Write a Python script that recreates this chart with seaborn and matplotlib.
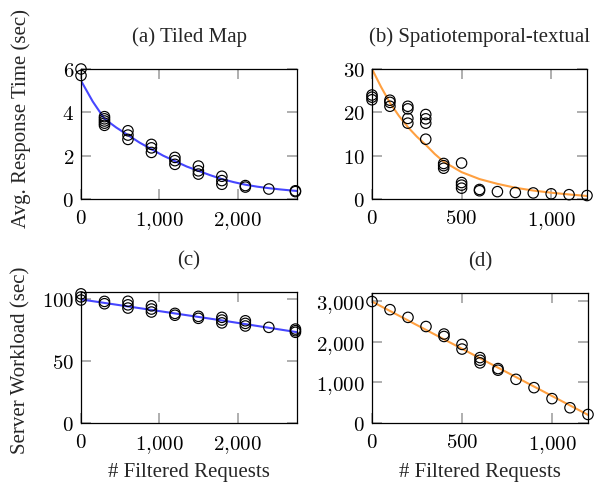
import matplotlib
matplotlib.use("Agg")
import matplotlib.pyplot as plt
import seaborn as sns
import pandas as pd
from matplotlib.ticker import FuncFormatter, FixedLocator

# ---------------- data ----------------
a_x = [0, 0, 300, 300, 300, 300, 300, 600, 600, 600, 900, 900, 900,
       1200, 1200, 1200, 1500, 1500, 1500, 1800, 1800, 1800, 2100, 2100,
       2400, 2740, 2740]
a_y = [6.0, 5.7, 3.8, 3.7, 3.6, 3.5, 3.4, 3.15, 2.95, 2.75, 2.52, 2.36, 2.15,
       1.92, 1.77, 1.6, 1.52, 1.3, 1.15, 1.05, 0.85, 0.68, 0.62, 0.55,
       0.46, 0.38, 0.34]
a_fit_x = [0, 150, 300, 450, 600, 750, 900, 1050, 1200, 1350, 1500, 1650,
           1800, 1950, 2100, 2250, 2400, 2550, 2760]
a_fit_y = [5.46, 4.5, 3.7, 3.3, 2.95, 2.6, 2.3, 2.0, 1.75, 1.5, 1.3, 1.1,
           0.92, 0.78, 0.66, 0.57, 0.5, 0.44, 0.37]

b_x = [0, 0, 0, 100, 100, 100, 200, 200, 200, 200, 300, 300, 300, 300,
       400, 400, 400, 500, 500, 500, 500, 600, 600, 700, 800, 900, 1000,
       1100, 1200]
b_y = [24.0, 23.5, 22.9, 22.8, 22.3, 21.4, 21.4, 20.8, 18.6, 17.5, 19.5,
       18.5, 17.5, 13.8, 8.2, 7.7, 7.1, 8.3, 3.8, 3.2, 2.5, 2.2, 1.9, 1.7,
       1.5, 1.4, 1.2, 1.0, 0.8]
b_fit_x = [0, 50, 100, 150, 200, 250, 300, 350, 400, 500, 600, 700, 800,
           900, 1000, 1100, 1200]
b_fit_y = [30.0, 25.9, 22.2, 19.2, 16.6, 14.4, 12.5, 10.4, 8.6, 6.2, 4.6,
           3.5, 2.6, 1.95, 1.45, 1.05, 0.7]

c_x = [0, 0, 0, 300, 300, 600, 600, 600, 900, 900, 900, 1200, 1200,
       1500, 1500, 1800, 1800, 1800, 2100, 2100, 2100, 2400, 2740, 2740, 2740]
c_y = [104.5, 102.0, 99.5, 98.4, 96.5, 98.5, 95.6, 93.0, 94.8, 92.2, 89.8,
       88.7, 87.2, 86.3, 84.7, 85.5, 83.3, 81.0, 82.7, 80.6, 78.5, 77.4,
       76.0, 74.7, 73.4]
c_fit_x = [0, 900, 1800, 2760]
c_fit_y = [100.0, 91.5, 83.0, 73.5]

d_x = [0, 100, 200, 300, 400, 400, 500, 500, 600, 600, 600, 700, 700,
       800, 900, 1000, 1100, 1200]
d_y = [2990, 2790, 2600, 2375, 2190, 2130, 1935, 1820, 1610, 1545, 1480,
       1340, 1300, 1075, 870, 600, 375, 210]
d_fit_x = [0, 600, 1200]
d_fit_y = [2990, 1595, 200]

titles = ["(a) Tiled Map", "(b) Spatiotemporal-textual", "(c)", "(d)"]
ylabels = ["Avg. Response Time (sec)", "Server Workload (sec)"]
xlabel = "# Filtered Requests"

a_xticks = [0, 1000, 2000]; a_yticks = [0, 2, 4, 6]
b_xticks = [0, 500, 1000]; b_yticks = [0, 10, 20, 30]
c_xticks = [0, 1000, 2000]; c_yticks = [0, 50, 100]
d_xticks = [0, 500, 1000]; d_yticks = [0, 1000, 2000, 3000]

BLUE = "#4646ff"
ORANGE = "#ffa040"

# ---------------- style ----------------
sns.set_style("white")
plt.rcParams["font.family"] = ["Liberation Serif", "DejaVu Serif"]
plt.rcParams["mathtext.fontset"] = "cm"

W, H = 595, 489
fig = plt.figure(figsize=(W / 100, H / 100), dpi=100)

def rect(l, t, r, b):
    return [l / W, 1 - b / H, (r - l) / W, (b - t) / H]

axes = [
    fig.add_axes(rect(81, 70, 297, 200)),
    fig.add_axes(rect(372, 70, 587, 200)),
    fig.add_axes(rect(81, 293, 297, 424)),
    fig.add_axes(rect(372, 294, 588, 424)),
]

panels = [
    (a_x, a_y, a_fit_x, a_fit_y, BLUE, (0, 2760), (0, 6), a_xticks, a_yticks),
    (b_x, b_y, b_fit_x, b_fit_y, ORANGE, (0, 1200), (0, 30), b_xticks, b_yticks),
    (c_x, c_y, c_fit_x, c_fit_y, BLUE, (0, 2760), (0, 106), c_xticks, c_yticks),
    (d_x, d_y, d_fit_x, d_fit_y, ORANGE, (0, 1200), (0, 3200), d_xticks, d_yticks),
]

fmt = FuncFormatter(lambda v, p: "$" + f"{int(round(v)):,}".replace(",", "{,}") + "$")

for i, (ax, (px, py, fx, fy, col, xl, yl, xt, yt)) in enumerate(zip(axes, panels)):
    pts = pd.DataFrame({"x": px, "y": py})
    fit = pd.DataFrame({"x": fx, "y": fy})
    sns.lineplot(data=fit, x="x", y="y", ax=ax, color=col, linewidth=1.5,
                 zorder=2)
    sns.scatterplot(data=pts, x="x", y="y", ax=ax, marker="o", s=56,
                    facecolor="none", edgecolor="black", linewidth=0.85,
                    clip_on=False, zorder=3)
    ax.set_xlim(*xl)
    ax.set_ylim(*yl)
    ax.xaxis.set_major_locator(FixedLocator(xt))
    ax.yaxis.set_major_locator(FixedLocator(yt))
    ax.xaxis.set_major_formatter(fmt)
    ax.yaxis.set_major_formatter(fmt)
    ax.tick_params(which="major", direction="in", bottom=True, left=True,
                   top=True, right=True, length=7, width=1.1,
                   color="#9a9a9a", labelcolor="black", labelsize=15, pad=5)
    ax.tick_params(axis="x", pad=7)
    for s in ax.spines.values():
        s.set_color("black")
        s.set_linewidth(0.9)
        s.set_zorder(4)
    ax.set_title(titles[i], fontsize=15, pad=20)
    ax.set_ylabel("")
    if i >= 2:
        ax.set_xlabel(xlabel, fontsize=15, labelpad=5)
    else:
        ax.set_xlabel("")

fig.text(21 / W, 1 - 119 / H, ylabels[0], rotation=90, ha="center",
         va="center", fontsize=15)
fig.text(21 / W, 1 - 360 / H, ylabels[1], rotation=90, ha="center",
         va="center", fontsize=15)

fig.savefig("out.png", dpi=100)
